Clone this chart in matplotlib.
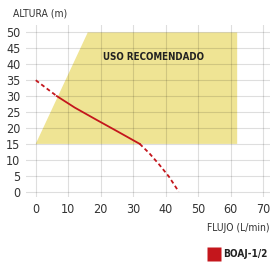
import matplotlib
matplotlib.use("Agg")
import matplotlib.pyplot as plt
from matplotlib.patches import Polygon
from matplotlib.lines import Line2D

# recommended-use zone (flow, height)
zone_flow = [0, 16, 62, 62]
zone_height = [15, 50, 50, 15]

# pump curve BOAJ-1/2
flow = [0, 6.5, 12, 18.8, 25, 32, 35, 38, 41, 44]
height = [35, 30, 26.4, 22.5, 19, 15, 12, 8.5, 4.7, 0]
solid_from, solid_to = 1, 5

x_ticks = [0, 10, 20, 30, 40, 50, 60, 70]
y_ticks = [0, 5, 10, 15, 20, 25, 30, 35, 40, 45, 50]

plt.rcParams['font.family'] = ['DejaVu Sans']
plt.rcParams['font.stretch'] = 'condensed'
txt = '#333333'
red = '#c4161c'

fig = plt.figure(figsize=(2.7, 2.62), dpi=100)
ax = fig.add_axes([0.0963, 0.248, 0.9037, 0.656])

ax.add_patch(Polygon(list(zip(zone_flow, zone_height)), closed=True,
                     facecolor='#efe494', edgecolor='none', zorder=1))
ax.text(36.4, 42.2, 'USO RECOMENDADO', ha='center', va='center',
        fontsize=7, fontweight='bold', color='#222222', zorder=3)

ax.plot(flow[:solid_from + 1], height[:solid_from + 1], color=red, lw=1.3,
        dashes=(2.2, 1.6), zorder=4)
ax.plot(flow[solid_from:solid_to + 1], height[solid_from:solid_to + 1],
        color=red, lw=1.3, zorder=4)
ax.plot(flow[solid_to:], height[solid_to:], color=red, lw=1.3,
        dashes=(2.2, 1.6), zorder=4)

ax.set_xlim(-3, 72.1)
ax.set_ylim(-1.7, 52.3)
ax.set_xticks(x_ticks)
ax.set_yticks(y_ticks)
ax.grid(True, color='black', alpha=0.13, lw=0.8, zorder=2)
ax.set_axisbelow(False)
for s in ax.spines.values():
    s.set_visible(False)
ax.tick_params(length=0, labelsize=9, colors=txt, pad=4)

fig.text(13 / 270, 1 - 13 / 262, 'ALTURA (m)', fontsize=7.5, color=txt,
         ha='left', va='center')
fig.text(1.0, 1 - 228 / 262, 'FLUJO (L/min)', fontsize=7.5, color=txt,
         ha='right', va='center')

handle = Line2D([], [], marker='s', color='none', markerfacecolor=red,
                markeredgecolor='none', markersize=9.5)
fig.legend([handle], ['BOAJ-1/2'], loc='center left',
           bbox_to_anchor=(204 / 270, 1 - 254 / 262), frameon=False,
           handletextpad=0.4, handlelength=1.0, borderpad=0,
           prop={'size': 7.2, 'weight': 'bold'}, labelcolor='#222222')

fig.savefig('out.png', dpi=100)
